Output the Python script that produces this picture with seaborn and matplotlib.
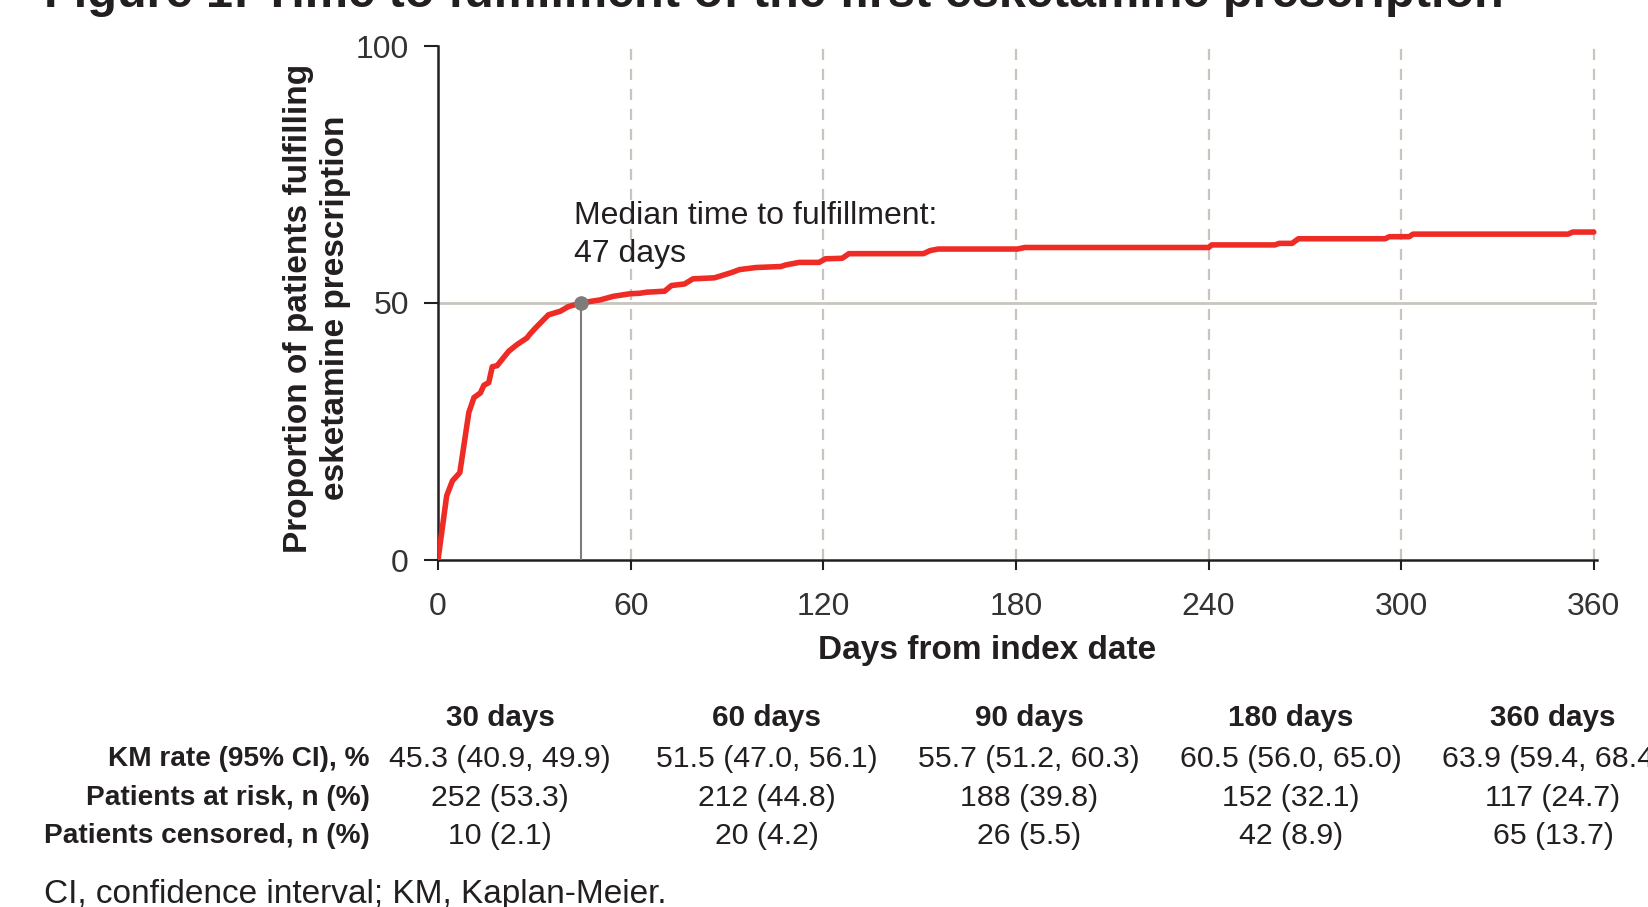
import numpy as np
import pandas as pd
import matplotlib
matplotlib.use("Agg")
import matplotlib.pyplot as plt
import seaborn as sns

# ---------------- data ----------------
days = [0, 2.7, 4.5, 6.8, 9.6, 11.2, 13.2, 14.3, 15.8, 16.9, 18.4, 22.0, 24.6,
        27.7, 28.7, 30.3, 34.4, 38.1, 40.6, 44.5, 47.4, 50.5, 54.6, 59.8, 62.9,
        65.0, 70.6, 72.7, 76.8, 79.4, 86.1, 87.7, 91.8, 93.9, 99.0, 106.8, 108.3,
        112.5, 118.7, 120.7, 125.9, 128.0, 151.2, 153.3, 155.8, 180.5, 182.8,
        240.0, 241.0, 260.7, 262.0, 266.0, 268.0, 295.0, 296.3, 302.5, 303.7,
        352.0, 353.4, 360.0]
pct = [0, 12.5, 15.4, 17.0, 28.7, 31.6, 32.5, 34.0, 34.5, 37.6, 37.8, 40.6, 41.9,
       43.2, 44.0, 45.1, 47.7, 48.4, 49.3, 50.0, 50.3, 50.6, 51.3, 51.8, 51.9,
       52.1, 52.3, 53.4, 53.7, 54.7, 54.9, 55.2, 56.0, 56.5, 56.9, 57.1, 57.4,
       57.9, 57.9, 58.6, 58.7, 59.6, 59.6, 60.2, 60.5, 60.5, 60.8,
       60.8, 61.3, 61.3, 61.6, 61.6, 62.5, 62.5, 62.9, 62.9, 63.4,
       63.4, 63.8, 63.8]

median_day_label = 47
median_x = 44.5
median_y = 50

x_ticks = [0, 60, 120, 180, 240, 300, 360]
y_ticks = [0, 50, 100]

col_headers = ["30 days", "60 days", "90 days", "180 days", "360 days"]
row_labels = ["KM rate (95% CI), %", "Patients at risk, n (%)", "Patients censored, n (%)"]
km_rate = ["45.3 (40.9, 49.9)", "51.5 (47.0, 56.1)", "55.7 (51.2, 60.3)",
           "60.5 (56.0, 65.0)", "63.9 (59.4, 68.4)"]
at_risk = ["252 (53.3)", "212 (44.8)", "188 (39.8)", "152 (32.1)", "117 (24.7)"]
censored = ["10 (2.1)", "20 (4.2)", "26 (5.5)", "42 (8.9)", "65 (13.7)"]

title = "Figure 1: Time to fulfillment of the first esketamine prescription"
footnote = "CI, confidence interval; KM, Kaplan-Meier."

# ---------------- style ----------------
sns.set_theme(style="white")
FONT = ["Liberation Sans", "DejaVu Sans"]
plt.rcParams["font.family"] = FONT
TXT = "#231f20"
RED = "#ee2b24"
GRID = "#c9c5bd"
GRAY = "#7f7b7b"

W, H = 1648, 907
fig = plt.figure(figsize=(W / 100, H / 100), dpi=100)
ax = fig.add_axes([438 / W, 1 - 560 / H, (1597 - 438) / W, (560 - 46) / H])

def fx(px):
    return px / W

def fy(py):
    return 1 - py / H

# grid lines
for xv in x_ticks[1:]:
    ax.axvline(xv, ymin=0, ymax=1, color=GRID, lw=1.6, ls=(0, (5, 4)), zorder=1)
ax.axhline(50, color=GRID, lw=2.0, zorder=1)

df = pd.DataFrame({"day": days, "pct": pct})
sns.lineplot(data=df, x="day", y="pct", color=RED, lw=4.0, ax=ax, zorder=4,
             sort=False, estimator=None, solid_capstyle="round")

# median marker
ax.plot([median_x, median_x], [0, median_y], color=GRAY, lw=1.5, zorder=3)
ax.plot([median_x], [median_y], "o", color=GRAY, ms=9.5, zorder=5)
fig.text(fx(574), fy(224), "Median time to fulfillment:", fontsize=23, color=TXT,
         ha="left", va="baseline")
fig.text(fx(574), fy(262), f"{median_day_label} days", fontsize=23, color=TXT,
         ha="left", va="baseline")

ax.set_xlim(0, 361)
ax.set_ylim(0, 100)
ax.set_xticks(x_ticks)
ax.set_yticks(y_ticks)
ax.set_xlabel("")
ax.set_ylabel("")
for s in ["top", "right"]:
    ax.spines[s].set_visible(False)
for s in ["left", "bottom"]:
    ax.spines[s].set_color(TXT)
    ax.spines[s].set_linewidth(1.8)
ax.tick_params(axis="y", direction="out", length=10, width=1.5, color=TXT,
               labelsize=23, labelcolor="#333333", pad=11, left=True)
ax.tick_params(axis="x", direction="out", length=7, width=1.5, color=TXT,
               labelsize=23, labelcolor="#333333", pad=16, bottom=True)

# axis labels
fig.text(fx(987), fy(651), "Days from index date", fontsize=24, fontweight="bold",
         color=TXT, ha="center", va="center")
fig.text(fx(317), fy(308), "Proportion of patients fulfilling\nesketamine prescription",
         fontsize=24, fontweight="bold", color=TXT, ha="center", va="center",
         rotation=90, multialignment="center", linespacing=1.22)

# title (partly cut by top edge, as in the reference)
fig.text(fx(44), fy(7), title, fontsize=35, fontweight="bold", color=TXT,
         ha="left", va="baseline")

# table
col_x = [500, 767, 1029, 1291, 1553]
row_y = [759, 798, 836]
for cx, h in zip(col_x, col_headers):
    fig.text(fx(cx), fy(718), h, fontsize=21.3, fontweight="bold", color=TXT,
             ha="center", va="center")
for ry, lab, vals in zip(row_y, row_labels, [km_rate, at_risk, censored]):
    fig.text(fx(370), fy(ry), lab, fontsize=20.2, fontweight="bold", color=TXT,
             ha="right", va="center")
    for cx, v in zip(col_x, vals):
        fig.text(fx(cx), fy(ry), v, fontsize=21.8, color=TXT, ha="center", va="center")

fig.text(fx(44), fy(894), footnote, fontsize=24, color=TXT, ha="left", va="center")

fig.savefig("out.png", dpi=100)
